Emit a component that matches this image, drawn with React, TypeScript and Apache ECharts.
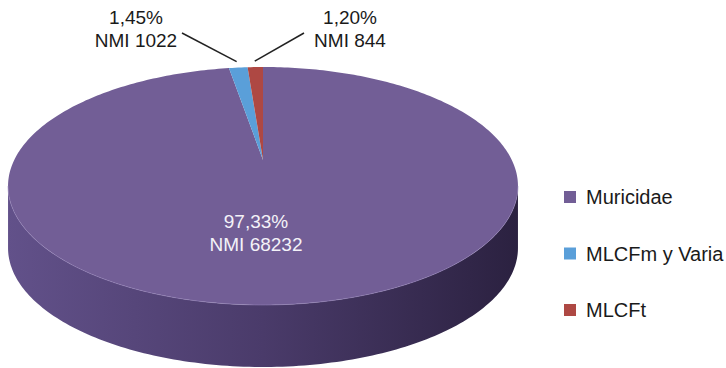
import React, { useEffect, useRef } from "react";
import * as echarts from "echarts";

// Distribución del NMI por grupo
const categories = ["Muricidae", "MLCFm y Varia", "MLCFt"];
const nmiValues = [68232, 1022, 844];
const percentLabels = ["97,33%", "1,45%", "1,20%"];
const nmiLabels = ["NMI 68232", "NMI 1022", "NMI 844"];

const sliceColors = ["#725E96", "#5A9FD9", "#AE4843"];
const FONT = '"Liberation Sans", Arial, Helvetica, sans-serif';

// Tilted disc: centre, radii, perspective factor and thickness of the rim
const CX = 263;
const CY = 160;
const RX = 248.8;
const RY = 113.3;
const K = 0.2185;
const DEPTH = 62;

// Label placement for each slice (anchor of the text block, leader-line start)
const LABEL_LAYOUT = [
  { x: 256, y: 233, color: "#F4F2F8", line: null as null | number[] },
  { x: 136, y: 28.5, color: "#1A1A1A", line: [182, 33] },
  { x: 350, y: 28.5, color: "#1A1A1A", line: [304, 33] },
];

const total = nmiValues.reduce((a, b) => a + b, 0);
const cumBefore = nmiValues.map((_, i) =>
  nmiValues.slice(0, i).reduce((a, b) => a + b, 0)
);

// angle in degrees, clockwise from 12 o'clock; r relative to rim
function project(deg: number, r: number): number[] {
  const t = (deg * Math.PI) / 180;
  const u = r * Math.sin(t);
  const v = r * Math.cos(t);
  const d = 1 + K * v;
  return [CX + (RX * u) / d, CY - (RY * v) / d];
}

function rim(a: number, b: number, r: number, dy: number): number[][] {
  const n = Math.max(2, Math.ceil(Math.abs(b - a)));
  const pts: number[][] = [];
  for (let j = 0; j <= n; j++) {
    const p = project(a + ((b - a) * j) / n, r);
    pts.push([p[0], p[1] + dy]);
  }
  return pts;
}

// front part of the rim lies between the two horizontal extremes
const FRONT_START = (Math.acos(-K) * 180) / Math.PI;
const FRONT_END = 360 - FRONT_START;

const sideGradient = new echarts.graphic.LinearGradient(
  CX - 256,
  0,
  CX + 256,
  0,
  [
    { offset: 0, color: "#62518A" },
    { offset: 0.5, color: "#4A3B6A" },
    { offset: 1, color: "#2B2140" },
  ],
  true
);

function makeRenderItem(idx: number) {
  return (_params: any, api: any) => {
    const value = api.value(0) as number;
    const before = api.value(1) as number;
    const start = (before / total) * 360;
    const end = ((before + value) / total) * 360;
    const children: any[] = [];

    const fa = Math.max(start, FRONT_START);
    const fb = Math.min(end, FRONT_END);
    if (fb > fa) {
      const top = rim(fa, fb, 1, 0);
      const bottom = rim(fb, fa, 1, DEPTH);
      children.push({
        type: "polygon",
        shape: { points: top.concat(bottom) },
        style: { fill: sideGradient },
      });
    }

    children.push({
      type: "polygon",
      shape: { points: [[CX, CY]].concat(rim(start, end, 1, 0)) },
      style: { fill: sliceColors[idx] },
    });

    if (fb > fa) {
      children.push({
        type: "polyline",
        shape: { points: rim(fa, fb, 1, 0) },
        style: { stroke: "rgba(150,132,185,0.55)", lineWidth: 1, fill: null },
      });
    }

    const lay = LABEL_LAYOUT[idx];
    if (lay.line) {
      const mid = (start + end) / 2;
      const tip = project(mid, 1.08);
      children.push({
        type: "line",
        shape: { x1: lay.line[0], y1: lay.line[1], x2: tip[0], y2: tip[1] },
        style: { stroke: "#222222", lineWidth: 1.5 },
      });
    }
    children.push({
      type: "text",
      x: lay.x,
      y: lay.y,
      style: {
        text: percentLabels[idx] + "\n" + nmiLabels[idx],
        fill: lay.color,
        fontSize: 19,
        fontFamily: FONT,
        lineHeight: 23,
        align: "center",
        verticalAlign: "middle",
      },
    });

    return { type: "group", children };
  };
}

export default function App() {
  const ref = useRef<HTMLDivElement>(null);

  useEffect(() => {
    if (!ref.current) return;
    const chart = echarts.init(ref.current, null, { renderer: "svg" });
    chart.setOption({
      animation: false,
      backgroundColor: "#FFFFFF",
      color: sliceColors,
      legend: {
        orient: "vertical",
        left: 559,
        top: 181,
        icon: "rect",
        itemWidth: 12,
        itemHeight: 12,
        itemGap: 34.5,
        selectedMode: false,
        data: categories,
        textStyle: {
          fontSize: 20,
          lineHeight: 22,
          color: "#1A1A1A",
          fontFamily: FONT,
          padding: [0, 0, 0, 5],
        },
      },
      series: categories.map((name, i) => ({
        type: "custom",
        name,
        coordinateSystem: "none",
        itemStyle: { color: sliceColors[i] },
        renderItem: makeRenderItem(i),
        data: [[nmiValues[i], cumBefore[i]]],
        z: i === 0 ? 1 : 2,
      })),
    });
    return () => chart.dispose();
  }, []);

  return (
    <div
      ref={ref}
      style={{ position: "fixed", left: 0, top: 0, width: 726, height: 368 }}
    />
  );
}
